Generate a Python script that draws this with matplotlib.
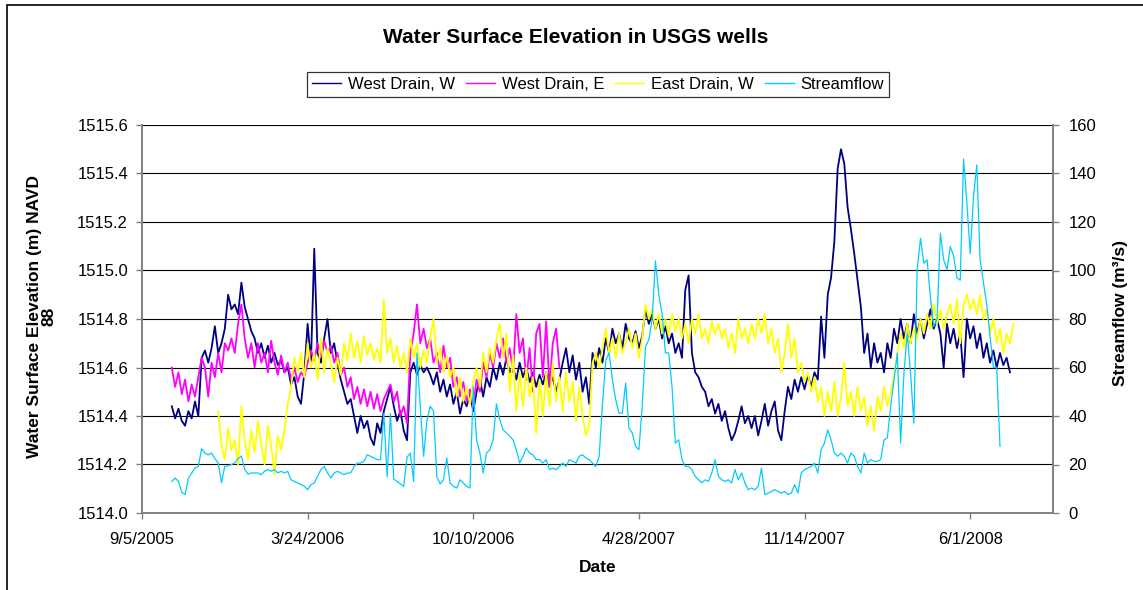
import pandas as pd
import matplotlib.pyplot as plt
from matplotlib.patches import Rectangle

plt.rcParams['font.family'] = ['Liberation Sans', 'DejaVu Sans']

step = '4D'

west_w_start = '2005-10-11'
west_w = [
    1514.44, 1514.39, 1514.43, 1514.38, 1514.36, 1514.42, 1514.39, 1514.46, 1514.40, 1514.64,
    1514.67, 1514.62, 1514.68, 1514.77, 1514.66, 1514.70, 1514.76, 1514.90, 1514.84, 1514.86,
    1514.82, 1514.95, 1514.85, 1514.80, 1514.75, 1514.72, 1514.66, 1514.70, 1514.64, 1514.69,
    1514.62, 1514.66, 1514.61, 1514.63, 1514.58, 1514.60, 1514.53, 1514.56, 1514.48, 1514.45,
    1514.58, 1514.78, 1514.62, 1515.09, 1514.66, 1514.62, 1514.72, 1514.80, 1514.66, 1514.70,
    1514.62, 1514.55, 1514.50, 1514.45, 1514.47, 1514.40, 1514.33, 1514.40, 1514.35, 1514.38,
    1514.31, 1514.28, 1514.37, 1514.33, 1514.42, 1514.47, 1514.52, 1514.44, 1514.38, 1514.42,
    1514.34, 1514.30, 1514.58, 1514.62, 1514.57, 1514.61, 1514.58, 1514.60,
    1514.57, 1514.53, 1514.58, 1514.50, 1514.55, 1514.48, 1514.53, 1514.45, 1514.50, 1514.41,
    1514.47, 1514.44, 1514.49, 1514.42, 1514.50, 1514.55, 1514.48, 1514.56, 1514.52, 1514.60,
    1514.55, 1514.62, 1514.57, 1514.64, 1514.58, 1514.60, 1514.55, 1514.62, 1514.56, 1514.60,
    1514.54, 1514.58, 1514.52, 1514.57, 1514.53, 1514.58, 1514.52, 1514.56, 1514.50, 1514.55,
    1514.62, 1514.68, 1514.58, 1514.65, 1514.55, 1514.62, 1514.50, 1514.56, 1514.45, 1514.66,
    1514.60, 1514.68, 1514.62, 1514.72, 1514.66, 1514.76, 1514.70, 1514.74, 1514.68, 1514.78,
    1514.72, 1514.70, 1514.75, 1514.68, 1514.73, 1514.84, 1514.78, 1514.82, 1514.76, 1514.80,
    1514.72, 1514.77, 1514.70, 1514.74, 1514.66, 1514.70, 1514.64, 1514.92, 1514.98, 1514.66,
    1514.58, 1514.56, 1514.52, 1514.50, 1514.44, 1514.47, 1514.41, 1514.45, 1514.38, 1514.42,
    1514.35, 1514.30, 1514.33, 1514.38, 1514.44, 1514.37, 1514.40,
    1514.35, 1514.40, 1514.32, 1514.38, 1514.45, 1514.36, 1514.42, 1514.46, 1514.34, 1514.30,
    1514.42, 1514.52, 1514.47, 1514.55, 1514.50, 1514.56, 1514.51, 1514.57, 1514.52, 1514.58,
    1514.55, 1514.81, 1514.64, 1514.90, 1514.97, 1515.12, 1515.42, 1515.50, 1515.44, 1515.26,
    1515.17, 1515.07, 1514.96, 1514.85, 1514.66, 1514.74, 1514.60, 1514.70, 1514.62, 1514.66,
    1514.58, 1514.70, 1514.64, 1514.76, 1514.70, 1514.80, 1514.72, 1514.78, 1514.70, 1514.82,
    1514.74, 1514.80, 1514.72, 1514.78, 1514.84, 1514.76, 1514.80, 1514.74, 1514.60, 1514.78,
    1514.70, 1514.76, 1514.68, 1514.74, 1514.56, 1514.80, 1514.72, 1514.77, 1514.68, 1514.74,
    1514.64, 1514.70, 1514.62, 1514.67, 1514.60, 1514.66, 1514.61, 1514.64, 1514.58,
]

west_e_start = '2005-10-11'
west_e = [
    1514.60, 1514.52, 1514.58, 1514.49, 1514.55, 1514.46, 1514.53, 1514.48, 1514.56, 1514.64,
    1514.60, 1514.48, 1514.62, 1514.56, 1514.66, 1514.58, 1514.70, 1514.67, 1514.72, 1514.66,
    1514.78, 1514.86, 1514.72, 1514.64, 1514.70, 1514.60, 1514.70, 1514.62, 1514.66, 1514.58,
    1514.71, 1514.62, 1514.57, 1514.65, 1514.58, 1514.62, 1514.55, 1514.60, 1514.54, 1514.58,
    1514.56, 1514.62, 1514.67, 1514.63, 1514.70, 1514.65, 1514.71, 1514.66, 1514.69, 1514.62,
    1514.66, 1514.57, 1514.60, 1514.52, 1514.56, 1514.47, 1514.52, 1514.45, 1514.51, 1514.44,
    1514.50, 1514.43, 1514.49, 1514.42, 1514.47, 1514.50, 1514.53, 1514.46, 1514.50, 1514.40,
    1514.44, 1514.37, 1514.66, 1514.74, 1514.86, 1514.70, 1514.76, 1514.68,
    1514.72, 1514.62, 1514.66, 1514.58, 1514.69, 1514.60, 1514.64, 1514.52, 1514.56, 1514.48,
    1514.54, 1514.46, 1514.51, 1514.44, 1514.55, 1514.50, 1514.62, 1514.56, 1514.66, 1514.60,
    1514.70, 1514.64, 1514.72, 1514.62, 1514.68, 1514.58, 1514.82, 1514.66, 1514.72, 1514.55,
    1514.68, 1514.50, 1514.74, 1514.78, 1514.56, 1514.79, 1514.52, 1514.70, 1514.76, 1514.60,
]

east_w_start = '2005-12-06'
east_w = [
    1514.42, 1514.28, 1514.22, 1514.35, 1514.26, 1514.30, 1514.20, 1514.44, 1514.30, 1514.22,
    1514.34, 1514.25, 1514.38, 1514.28, 1514.20, 1514.36, 1514.28, 1514.16, 1514.32, 1514.26,
    1514.34, 1514.45, 1514.52, 1514.64, 1514.58, 1514.66, 1514.56, 1514.70, 1514.60, 1514.66,
    1514.55, 1514.72, 1514.58, 1514.68, 1514.62, 1514.54, 1514.64, 1514.57, 1514.70, 1514.63,
    1514.74, 1514.64, 1514.71, 1514.62, 1514.73, 1514.65, 1514.70, 1514.63, 1514.68, 1514.62,
    1514.88, 1514.66, 1514.72, 1514.62, 1514.69, 1514.60, 1514.66, 1514.58, 1514.72, 1514.64,
    1514.70, 1514.60, 1514.67, 1514.62,
    1514.72, 1514.80, 1514.62, 1514.68, 1514.58, 1514.65, 1514.56, 1514.60, 1514.48, 1514.56,
    1514.46, 1514.52, 1514.45, 1514.54, 1514.60, 1514.52, 1514.66, 1514.58, 1514.68, 1514.62,
    1514.72, 1514.78, 1514.64, 1514.74, 1514.50, 1514.65, 1514.42, 1514.58, 1514.44, 1514.60,
    1514.48, 1514.56, 1514.33, 1514.55, 1514.40, 1514.58, 1514.44, 1514.62, 1514.46, 1514.56,
    1514.42, 1514.58, 1514.46, 1514.54, 1514.38, 1514.52, 1514.40, 1514.32, 1514.36, 1514.62,
    1514.66, 1514.60, 1514.68, 1514.76, 1514.66, 1514.72, 1514.64, 1514.74, 1514.66, 1514.70,
    1514.76, 1514.68, 1514.74, 1514.64, 1514.72, 1514.86, 1514.80, 1514.84, 1514.76, 1514.82,
    1514.74, 1514.80, 1514.73, 1514.82, 1514.75, 1514.80, 1514.72, 1514.78, 1514.70, 1514.80,
    1514.74, 1514.82, 1514.72, 1514.76, 1514.70, 1514.79, 1514.74, 1514.78, 1514.72, 1514.76,
    1514.68, 1514.74, 1514.66, 1514.80, 1514.72, 1514.76, 1514.70,
    1514.78, 1514.72, 1514.80, 1514.74, 1514.82, 1514.70, 1514.76, 1514.66, 1514.72, 1514.58,
    1514.66, 1514.78, 1514.64, 1514.72, 1514.58, 1514.62, 1514.54, 1514.58, 1514.50, 1514.56,
    1514.46, 1514.52, 1514.40, 1514.50, 1514.42, 1514.54, 1514.40, 1514.48, 1514.62, 1514.44,
    1514.50, 1514.40, 1514.52, 1514.42, 1514.48, 1514.36, 1514.44, 1514.34, 1514.48, 1514.42,
    1514.52, 1514.44, 1514.50, 1514.56, 1514.66, 1514.74, 1514.68, 1514.78, 1514.70, 1514.76,
    1514.72, 1514.80, 1514.74, 1514.82, 1514.76, 1514.86, 1514.78, 1514.84, 1514.76, 1514.82,
    1514.86, 1514.78, 1514.88, 1514.70, 1514.86, 1514.90, 1514.84, 1514.88, 1514.82, 1514.90,
    1514.80, 1514.84, 1514.74, 1514.80, 1514.70, 1514.76, 1514.66, 1514.74, 1514.70, 1514.78,
]

flow_start = '2005-10-11'
flow = [
    13.0, 14.4, 13.0, 8.5, 7.6, 14.4, 16.5, 18.5, 19.2, 26.5,
    24.7, 24.0, 24.7, 22.5, 20.6, 12.5, 19.2, 19.5, 20.0, 20.6,
    22.5, 23.5, 18.0, 16.0, 16.5, 16.5, 16.5, 15.8, 17.2, 17.9,
    17.2, 17.9, 16.5, 17.2, 16.5, 17.2, 13.7, 13.0, 12.4, 11.7,
    11.0, 9.6, 11.7, 12.4, 15.1, 17.9, 19.2, 16.5, 14.4, 16.5,
    17.2, 16.5, 15.8, 16.5, 16.5, 19.2, 20.6, 20.6, 21.3, 24.0,
    23.4, 22.7, 22.0, 22.0, 41.0, 15.0, 41.0, 14.0, 13.0, 12.0,
    11.0, 23.0, 24.7, 13.0, 66.0, 44.0, 23.4, 38.0,
    44.0, 42.0, 15.0, 12.0, 13.7, 22.7, 12.4, 11.0, 10.3, 13.7,
    12.4, 11.0, 10.3, 52.0, 30.0, 24.7, 16.5, 24.7, 26.1, 30.2,
    45.0, 38.5, 34.3, 33.0, 31.6, 30.2, 26.1, 20.6, 23.4, 26.8,
    24.7, 24.0, 22.0, 22.0, 20.6, 22.0, 17.9, 18.5, 17.9, 19.2,
    20.6, 19.2, 22.0, 21.3, 20.6, 23.4, 24.0, 22.7, 22.0, 20.6,
    19.2, 23.4, 45.0, 63.0, 66.0, 55.0, 46.7, 41.2, 41.2, 53.6,
    35.0, 33.0, 27.5, 26.1, 44.0, 68.7, 71.4, 80.0, 104.0, 90.0,
    82.0, 66.0, 66.0, 52.0, 28.8, 30.2, 22.0, 19.2, 19.2, 17.9,
    15.1, 13.7, 12.4, 13.7, 13.0, 16.5, 22.0, 15.1, 13.7, 13.0,
    13.7, 12.4, 17.9, 13.7, 16.5, 12.4, 9.6,
    10.3, 9.6, 11.0, 18.5, 7.6, 8.2, 8.9, 9.6, 8.9, 8.2,
    8.9, 7.6, 8.2, 11.7, 8.2, 16.5, 17.9, 18.5, 19.2, 20.6,
    16.5, 26.1, 28.8, 34.3, 30.2, 24.7, 23.4, 24.7, 23.4, 20.6,
    24.7, 23.4, 19.2, 16.5, 24.7, 20.6, 22.0, 21.3, 21.3, 22.0,
    30.2, 31.0, 44.0, 55.0, 65.9, 28.8, 57.7, 74.0, 57.7, 37.0,
    100.3, 113.3, 103.0, 104.4, 89.0, 76.9, 79.7, 115.4, 104.4, 100.3,
    109.9, 106.0, 97.0, 96.0, 146.0, 128.0, 107.0, 130.5, 143.5, 104.4,
    95.0, 86.0, 72.8, 60.0, 60.0, 27.5,
]

x_ticks = ['2005-09-05', '2006-03-24', '2006-10-10', '2007-04-28', '2007-11-14', '2008-06-01']
x_tick_labels = ['9/5/2005', '3/24/2006', '10/10/2006', '4/28/2007', '11/14/2007', '6/1/2008']
elev_ticks = [1514.0, 1514.2, 1514.4, 1514.6, 1514.8, 1515.0, 1515.2, 1515.4, 1515.6]
flow_ticks = [0, 20, 40, 60, 80, 100, 120, 140, 160]


def dates(start, vals):
    return pd.date_range(start, periods=len(vals), freq=step)


W, H = 1143, 590
fig = plt.figure(figsize=(W / 100, H / 100), dpi=100)
ax = fig.add_axes([142 / W, 1 - 513 / H, (1053 - 142) / W, (513 - 125) / H])
ax2 = ax.twinx()

l1, = ax.plot(dates(west_w_start, west_w), west_w, color='#000080', lw=1.3, label='West Drain, W')
l2, = ax.plot(dates(west_e_start, west_e), west_e, color='#FF00FF', lw=1.3, label='West Drain, E')
l3, = ax.plot(dates(east_w_start, east_w), east_w, color='#FFFF00', lw=1.3, label='East Drain, W')
l4, = ax2.plot(dates(flow_start, flow), flow, color='#00CCFF', lw=0.9, label='Streamflow')

ax.set_xlim(pd.Timestamp('2005-09-05'), pd.Timestamp('2008-09-09'))
ax.set_ylim(1514.0, 1515.6)
ax2.set_ylim(0, 160)
ax.set_xticks(pd.to_datetime(x_ticks))
ax.set_xticklabels(x_tick_labels)
ax.set_yticks(elev_ticks)
ax.set_yticklabels([f'{v:.1f}' for v in elev_ticks])
ax2.set_yticks(flow_ticks)

ax.grid(axis='y', color='black', lw=0.8)
ax.grid(axis='x', visible=False)

for a in (ax, ax2):
    for s in a.spines.values():
        s.set_color('#808080')
        s.set_linewidth(1.2)
    a.spines['top'].set_visible(False)
ax.tick_params(axis='y', direction='out', length=4, width=1, color='#808080', labelsize=12, pad=6)
ax.tick_params(axis='x', direction='out', length=4, width=1, color='#808080', labelsize=12, pad=10)
ax2.tick_params(axis='y', direction='out', length=4, width=1, color='#808080', labelsize=12, pad=7)

fig.text(576 / W, 1 - 37.5 / H, 'Water Surface Elevation in USGS wells',
         ha='center', va='center', fontsize=15, fontweight='bold')
fig.text(42 / W, 1 - 316 / H, 'Water Surface Elevation (m) NAVD\n88', rotation=90,
         ha='center', va='center', multialignment='center', linespacing=1.0,
         fontsize=12.5, fontweight='bold')
fig.text(1120 / W, 1 - 313 / H, 'Streamflow (m³/s)', rotation=90,
         ha='center', va='center', fontsize=12.5, fontweight='bold')
fig.text(598 / W, 1 - 568 / H, 'Date', ha='center', va='center', fontsize=12.5, fontweight='bold')

leg = fig.legend(handles=[l1, l2, l3, l4], loc='center', bbox_to_anchor=(598 / W, 1 - 84.5 / H),
                 ncol=4, fontsize=12, frameon=True, fancybox=False, edgecolor='black',
                 handlelength=1.75, handletextpad=0.4, columnspacing=0.65, borderpad=0.3)
leg.get_frame().set_linewidth(0.9)
for h in leg.get_lines():
    h.set_linewidth(1.0)

# outer chart border (runs off the right and bottom of the picture)
fig.patches.append(Rectangle((7 / W, -0.1), 1.2, 1.1 - 5 / H, transform=fig.transFigure,
                             fill=False, ec='black', lw=1.2))

fig.savefig('out.png', dpi=100)
